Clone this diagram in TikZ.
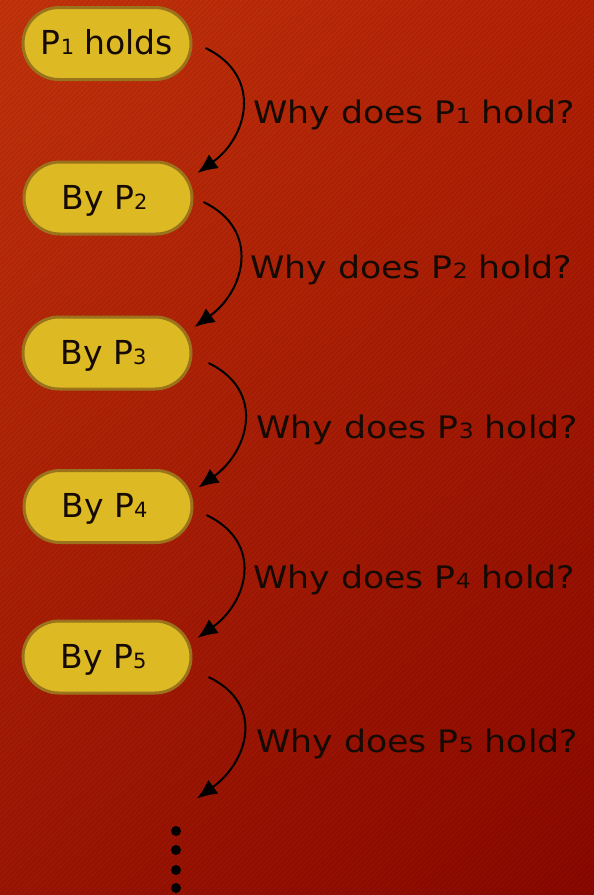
\documentclass[tikz,border=0pt]{standalone}
\usepackage{fontspec}
\setmainfont{DejaVu Sans}
\newfontfamily\lblfont{DejaVu Sans}[FakeStretch=1.12]
\usetikzlibrary{arrows.meta,shadings}
\definecolor{bgUL}{RGB}{198,52,12}
\definecolor{bgUR}{RGB}{182,34,6}
\definecolor{bgLL}{RGB}{160,22,4}
\definecolor{bgLR}{RGB}{140,8,0}
\definecolor{pillfill}{RGB}{221,186,36}
\definecolor{pilldraw}{RGB}{155,115,28}
\definecolor{inkc}{RGB}{22,10,4}
\newcommand{\sbn}[1]{{\fontsize{21}{21}\selectfont #1}}
\tikzset{
  pill/.style={draw=pilldraw, fill=pillfill, line width=3pt,
    minimum width=168pt, minimum height=72pt, rounded corners=36pt,
    inner sep=0pt, text=inkc, font=\fontsize{33}{36}\selectfont,
    text height=24pt, text depth=2pt},
  lbl/.style={anchor=base west, inner sep=0pt, text=inkc,
    font=\lblfont\fontsize{31}{34}\selectfont},
  arr/.style={draw=black, line width=2pt, -{Latex[length=20pt,width=17pt]}},
  dotc/.style={circle, fill=black, inner sep=0pt, minimum size=10pt}
}
\begin{document}
\begin{tikzpicture}[x=1pt,y=-1pt]
\useasboundingbox (0,0) rectangle (594,895);
\shade[upper left=bgUL, upper right=bgUR, lower left=bgLL, lower right=bgLR] (0,0) rectangle (594,895);
\begin{scope}
\clip (0,0) rectangle (594,895);
\foreach \k in {0,5,...,1500} {
  \draw[black, opacity=0.08, line width=1.6pt] (\k,0) -- (\k-900,900);
}
\end{scope}

\node[pill] (n1) at (107,43.5) {P\sbn{1} holds};
\node[pill] (n2) at (108,198) {By P\sbn{2}\kern7pt};
\node[pill] (n3) at (107,353) {By P\sbn{3}\kern7pt};
\node[pill] (n4) at (108,506.5) {By P\sbn{4}\kern7pt};
\node[pill] (n5) at (107,657) {By P\sbn{5}\kern7pt};
\coordinate (e5) at (197,798.5);

\draw[arr] ([shift={(13,4.5)}]n1.east) .. controls +(58,28) and +(50,-36) .. ([shift={(4,-25)}]n2.east);
\draw[arr] ([shift={(10,4)}]n2.east) .. controls +(58,28) and +(50,-36) .. ([shift={(2,-26)}]n3.east);
\draw[arr] ([shift={(16,10)}]n3.east) .. controls +(58,28) and +(50,-36) .. ([shift={(5,-19)}]n4.east);
\draw[arr] ([shift={(13,8.5)}]n4.east) .. controls +(58,28) and +(50,-36) .. ([shift={(5,-19)}]n5.east);
\draw[arr] ([shift={(16,20)}]n5.east) .. controls +(58,28) and +(50,-36) .. (e5);

\node[lbl] (l1) at (253,123.5) {Why does P\sbn{1} hold?};
\node[lbl] (l2) at (250,278.5) {Why does P\sbn{2} hold?};
\node[lbl] (l3) at (256,438.5) {Why does P\sbn{3} hold?};
\node[lbl] (l4) at (253,588.5) {Why does P\sbn{4} hold?};
\node[lbl] (l5) at (256,752.5) {Why does P\sbn{5} hold?};

\node[dotc] (d1) at (176,831) {};
\node[dotc] (d2) at (176,850) {};
\node[dotc] (d3) at (176,870) {};
\node[dotc] (d4) at (176,888) {};
\end{tikzpicture}
\end{document}
